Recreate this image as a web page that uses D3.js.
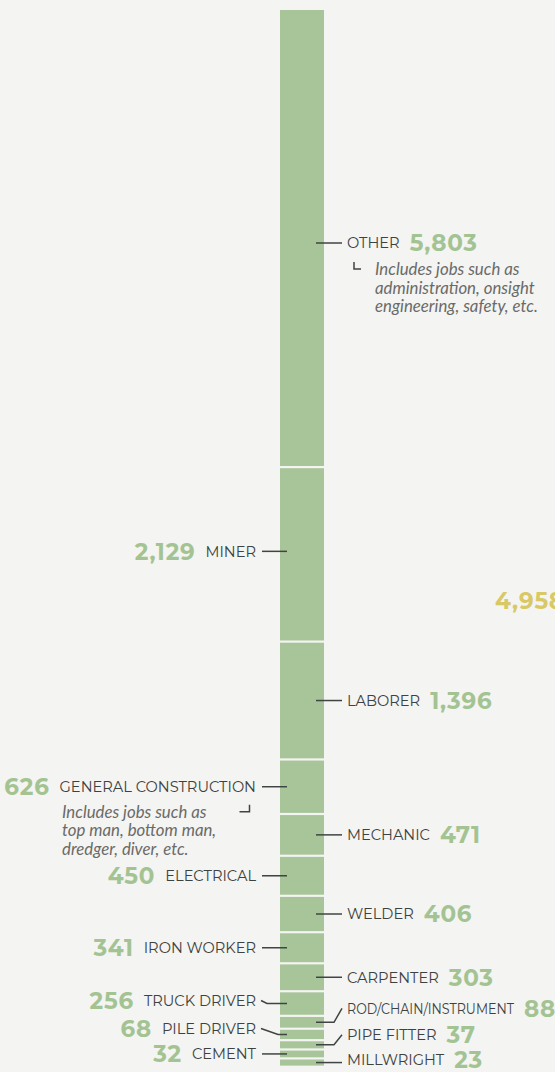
<!DOCTYPE html>
<meta charset="utf-8">
<body style="margin:0;background:#f4f4f2;">
<style>
  .label { font-family: Montserrat, Inter, sans-serif; font-size: 14.6px; fill: #3c423f; }
  .value { font-family: Montserrat, Inter, sans-serif; font-size: 23px; font-weight: 700; letter-spacing: 0.8px; fill: #a3c392; }
  .note  { font-family: Lato, sans-serif; font-style: italic; font-size: 16.8px; fill: #6a6a68; }
  .tick  { fill: none; stroke: #3f4542; stroke-width: 1.5; }
</style>
<svg width="555" height="1072"></svg>
<script src="https://d3js.org/d3.v7.min.js"></script>
<script>

// Jobs, top to bottom of the stacked bar
var jobs = ["Other", "Miner", "Laborer", "General construction", "Mechanic", "Electrical",
            "Welder", "Iron worker", "Carpenter", "Truck driver", "Rod/chain/instrument",
            "Pile driver", "Pipe fitter", "Cement", "Millwright"];
var counts = [5803, 2129, 1396, 626, 471, 450, 406, 341, 303, 256, 88, 68, 37, 32, 23];

// Notes under two of the labels
var otherNote = ["Includes jobs such as", "administration, onsight", "engineering, safety, etc."];
var constructionNote = ["Includes jobs such as", "top man, bottom man,", "dredger, diver, etc."];

// Total shown at the edge (cut off in the original)
var sideTotal = 4958;

var svg = d3.select("svg");
var fmt = d3.format(",");

// Bar geometry
var barX = 280, barW = 44, barTop = 10, gap = 2.2;

// Segment height scale (the original gives small jobs a minimum and squeezes the big ones)
var h = d3.scaleLinear()
    .domain([0, 300, 1400, d3.max(counts)])
    .range([4.5, 25.5, 116, 456]);

var segs = [];
var y = barTop;
counts.forEach(function (v, i) {
  segs.push({ job: jobs[i], value: v, y0: y, h: h(v), side: i % 2 === 0 ? "right" : "left" });
  y += h(v) + gap;
});

// The bar
svg.append("g")
  .selectAll("rect")
  .data(segs)
  .enter().append("rect")
    .attr("x", barX)
    .attr("y", function (d) { return d.y0; })
    .attr("width", barW)
    .attr("height", function (d) { return d.h; })
    .attr("fill", "#a8c59a");

// small nudges so lines / labels sit like the original
var lineShift = { "Other": 5, "Miner": -3 };
var textShift = { "Truck driver": -3, "Rod/chain/instrument": -14, "Pile driver": -6,
                  "Pipe fitter": -10, "Millwright": -2.5 };
// the long one is set condensed
var squeeze = { "Rod/chain/instrument": 167 };

var labels = svg.append("g");
segs.forEach(function (d) {
  var ly = d.y0 + d.h / 2 + (lineShift[d.job] || 0);
  var ty = ly + (textShift[d.job] || 0);
  var right = d.side === "right";
  var bent = ty - ly < -2.6;
  var tickPath;
  if (right) {
    tickPath = !bent
      ? "M316," + ly + "H342"
      : "M316," + ly + "H334" + "L342," + ty;
  } else {
    tickPath = !bent
      ? "M262," + ly + "H287"
      : "M261," + ty + "L" + (ty - ly > -4 ? 267 : 278) + "," + ly + "H287";
  }
  labels.append("path").attr("class", "tick").attr("d", tickPath);

  var lab = labels.append("text")
      .attr("class", "label")
      .attr("x", right ? 347 : 256)
      .attr("y", ty)
      .attr("dy", "0.36em")
      .attr("text-anchor", right ? "start" : "end")
      .text(d.job.toUpperCase());
  var w;
  if (squeeze[d.job]) {
    w = squeeze[d.job];
    lab.attr("textLength", w).attr("lengthAdjust", "spacingAndGlyphs");
  } else {
    w = lab.node().getComputedTextLength();
  }

  labels.append("text")
      .attr("class", "value")
      .attr("x", right ? 347 + w + 10 : 256 - w - 10)
      .attr("y", ty)
      .attr("dy", "0.36em")
      .attr("text-anchor", right ? "start" : "end")
      .text(fmt(d.value));

  // notes
  if (d.job === "Other") {
    labels.append("path").attr("class", "tick").attr("d", "M354," + (ly + 19) + "V" + (ly + 26) + "H361");
    labels.append("text").attr("class", "note")
      .selectAll("tspan").data(otherNote).enter().append("tspan")
        .attr("x", 375)
        .attr("y", function (t, k) { return ly + 32 + k * 18.7; })
        .text(function (t) { return t; });
  }
  if (d.job === "General construction") {
    labels.append("path").attr("class", "tick").attr("d", "M249.5," + (ly + 18) + "V" + (ly + 25) + "H239.5");
    labels.append("text").attr("class", "note")
      .selectAll("tspan").data(constructionNote).enter().append("tspan")
        .attr("x", 62)
        .attr("y", function (t, k) { return ly + 31 + k * 18.5; })
        .text(function (t) { return t; });
  }
});

// cut-off total at the right edge
svg.append("text")
  .attr("class", "value")
  .attr("x", 495)
  .attr("y", 609)
  .style("fill", "#d8c866")
  .text(fmt(sideTotal));

</script>
</body>
